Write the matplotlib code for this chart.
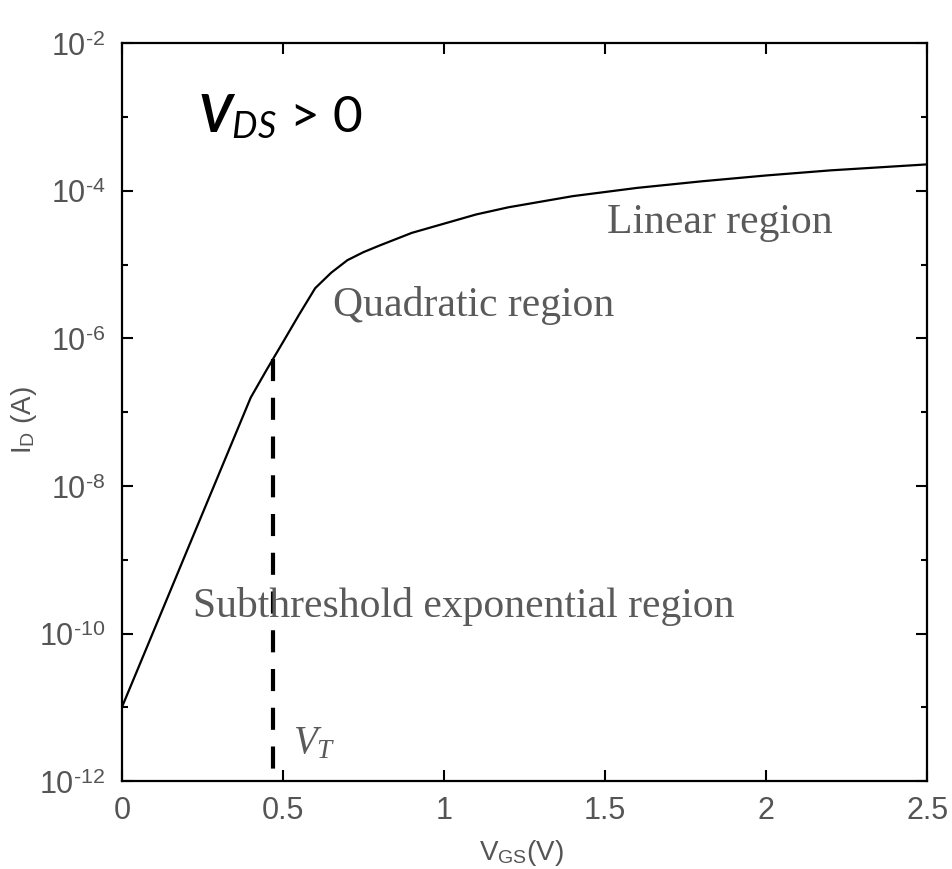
import matplotlib
matplotlib.use("Agg")
import matplotlib.pyplot as plt
from matplotlib.ticker import FixedLocator, NullFormatter
import numpy as np

# Data (V_GS in volts, I_D in amps)
vgs = [0.0, 0.1, 0.2, 0.3, 0.4, 0.45, 0.5, 0.55, 0.6, 0.65, 0.7, 0.75,
       0.8, 0.9, 1.0, 1.1, 1.2, 1.4, 1.6, 1.8, 2.0, 2.2, 2.5]
i_d = [1.0e-11, 1.12e-10, 1.26e-9, 1.41e-8, 1.58e-7, 3.8e-7, 8.9e-7,
       2.1e-6, 4.8e-6, 7.8e-6, 1.15e-5, 1.48e-5, 1.82e-5, 2.7e-5,
       3.6e-5, 4.8e-5, 6.0e-5, 8.5e-5, 1.1e-4, 1.35e-4, 1.62e-4,
       1.9e-4, 2.29e-4]
v_t = 0.469

x_ticks = [0, 0.5, 1, 1.5, 2, 2.5]
x_tick_labels = ['0', '0.5', '1', '1.5', '2', '2.5']
y_major = [1e-12, 1e-10, 1e-8, 1e-6, 1e-4, 1e-2]
y_major_labels = [r'$10^{\text{-12}}$', r'$10^{\text{-10}}$',
                  r'$10^{\text{-8}}$', r'$10^{\text{-6}}$',
                  r'$10^{\text{-4}}$', r'$10^{\text{-2}}$']
y_minor = [1e-11, 1e-9, 1e-7, 1e-5, 1e-3]

plt.rcParams['font.family'] = 'Liberation Sans'
plt.rcParams['mathtext.fontset'] = 'custom'
plt.rcParams['mathtext.rm'] = 'Liberation Sans'
plt.rcParams['mathtext.it'] = 'Liberation Serif:italic'
plt.rcParams['mathtext.sf'] = 'Lato:italic'
plt.rcParams['mathtext.bfit'] = 'Lato:bold:italic'

tick_gray = '#555555'
text_gray = '#5a5a5a'

fig = plt.figure(figsize=(9.52, 8.70), dpi=100)
ax = fig.add_axes([0.128, 0.101, 0.846, 0.848])

ax.plot(vgs, i_d, color='black', linewidth=1.6)

# threshold marker, drawn from the curve down to the axis
vt_top = 10 ** np.interp(v_t, vgs, np.log10(i_d))
ax.plot([v_t, v_t], [vt_top, y_major[0]], color='black', linewidth=3,
        dashes=(5.3, 4))

ax.set_yscale('log')
ax.set_xlim(0, 2.5)
ax.set_ylim(1e-12, 1e-2)

ax.set_xticks(x_ticks)
ax.set_xticklabels(x_tick_labels)
ax.yaxis.set_major_locator(FixedLocator(y_major))
ax.set_yticklabels(y_major_labels)
ax.yaxis.set_minor_locator(FixedLocator(y_minor))
ax.yaxis.set_minor_formatter(NullFormatter())
ax.xaxis.set_minor_locator(FixedLocator([]))

ax.tick_params(which='both', direction='in', top=True, right=True,
               labelsize=22, labelcolor=tick_gray, width=1.5)
ax.tick_params(which='major', length=8)
ax.tick_params(which='minor', length=4)
ax.tick_params(axis='x', pad=10)
ax.tick_params(axis='y', pad=12)
for sp in ax.spines.values():
    sp.set_linewidth(1.6)

ax.set_xlabel(r'V$_\mathrm{GS}$(V)', fontsize=20, color=tick_gray)
ax.set_ylabel(r'I$_\mathrm{D}$ (A)', fontsize=20, color=tick_gray)
ax.xaxis.set_label_coords(0.496, -0.076)
ax.yaxis.set_label_coords(-0.103, 0.49)

# region annotations
ax.text(0.22, 1.74e-10, 'Subthreshold exponential region', fontsize=30,
        family='Liberation Serif', color=text_gray, va='baseline')
ax.text(0.655, 2.1e-6, 'Quadratic region', fontsize=30,
        family='Liberation Serif', color=text_gray, va='baseline')
ax.text(1.506, 2.75e-5, 'Linear region', fontsize=30,
        family='Liberation Serif', color=text_gray, va='baseline')
ax.text(0.531, 2.47e-12, r'$V_T$', fontsize=28, color=text_gray,
        va='baseline')
ax.text(0.236, 6.4e-4, r'$\mathbfit{V}_{\mathsf{DS}}$ > 0', fontsize=37,
        family='Lato', color='black', va='baseline')

fig.savefig('out.png', dpi=100)
